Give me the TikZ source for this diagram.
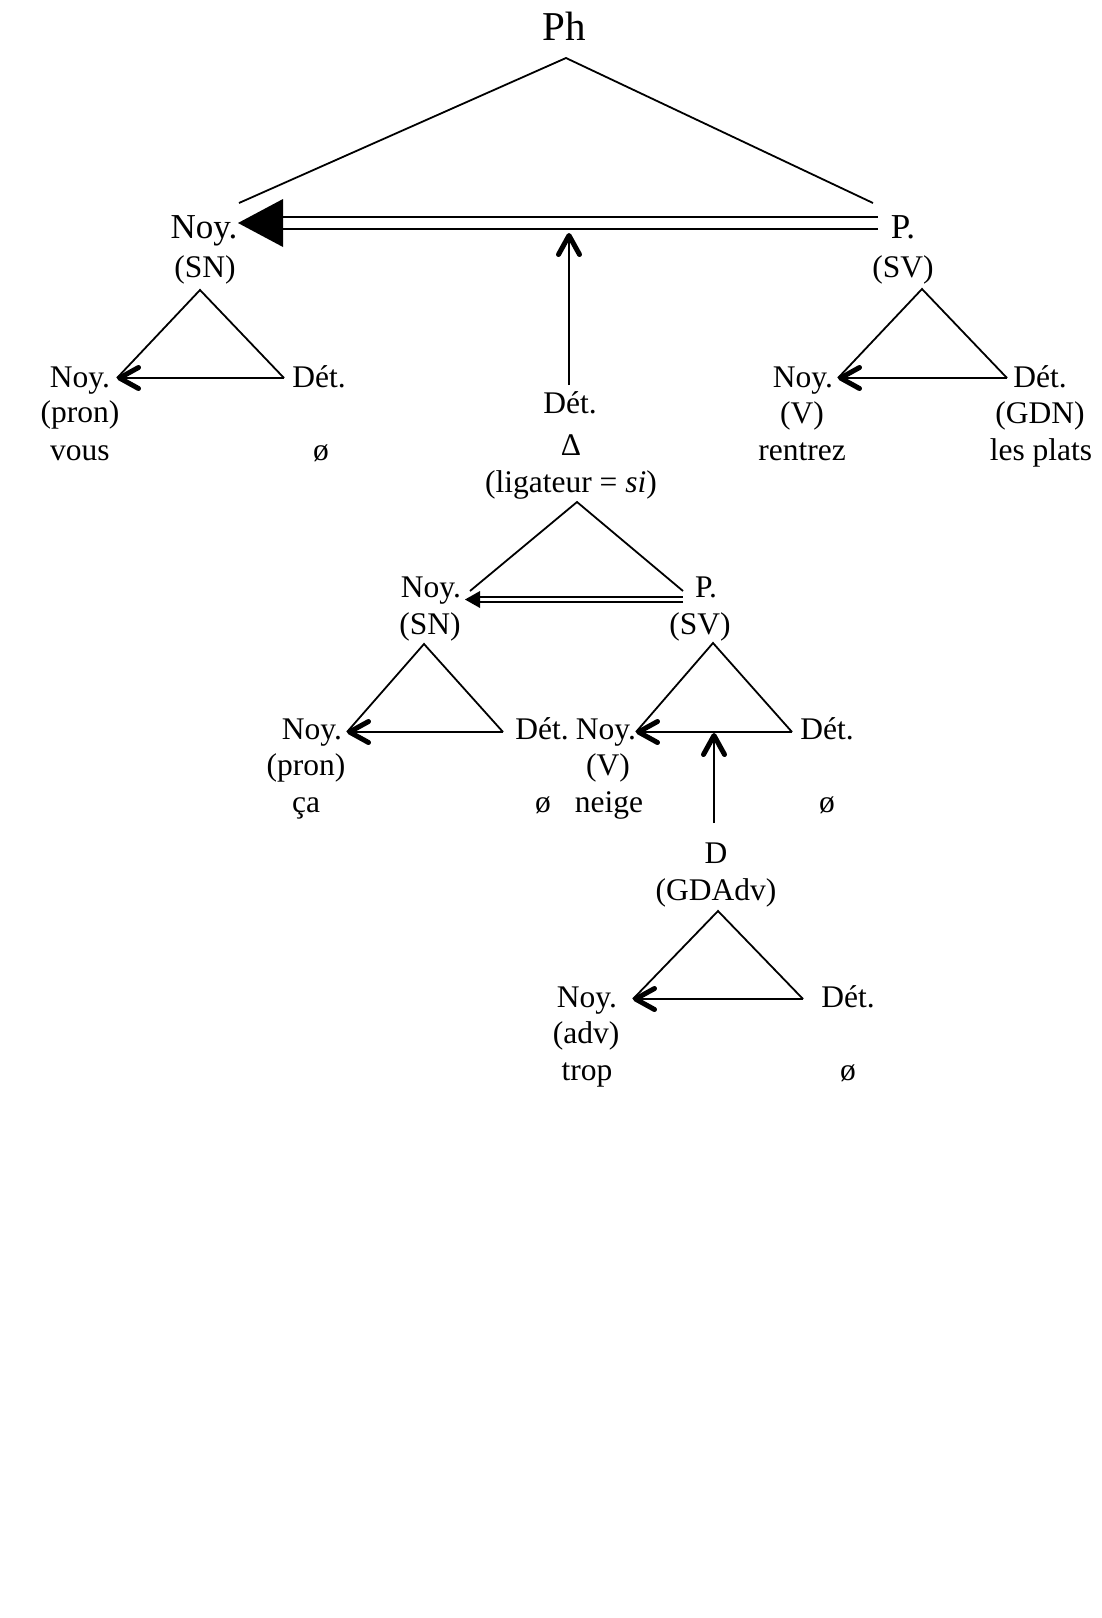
\documentclass[tikz,border=0pt]{standalone}
\usepackage{fontspec}
\setmainfont{Liberation Serif}
\usetikzlibrary{arrows.meta}
\begin{document}
\begin{tikzpicture}[x=1pt,y=-1pt,
  t/.style={anchor=base,inner sep=0pt,font=\fontsize{31.5}{36}\selectfont},
  tb/.style={anchor=base,inner sep=0pt,font=\fontsize{35}{40}\selectfont},
  tph/.style={anchor=base,inner sep=0pt,font=\fontsize{41}{46}\selectfont},
  edge/.style={line width=1.8pt},
  chev/.style={line width=1.8pt,-{Straight Barb[length=19pt,width=21pt,line width=5pt,round]}},
  uparrow/.style={line width=2.3pt,-{Straight Barb[length=19pt,width=21pt,line width=5pt,round]}},
  dbl/.style={line width=1.9pt,double distance=#1}
]
\fill[white] (0,0) rectangle (1102,1618);
\useasboundingbox (0,0) rectangle (1102,1618);

% ---------- level 0 ----------
\node[tph] (ph) at (564.5,40.7) {Ph};
\coordinate (phA) at (566,58);
\coordinate (phL) at (239,203);
\coordinate (phR) at (873,203);
\draw[edge] (phL) -- (phA) -- (phR);

% ---------- level 1 ----------
\node[tb] (n1) at (204,238) {Noy.};
\node[t]  (n1b) at (205,277) {(SN)};
\node[tb] (p1) at (903,238) {P.};
\node[t]  (p1b) at (903,277) {(SV)};
\coordinate (p1w) at (878,223);
\coordinate (n1e) at (238,223);
\draw[dbl=10pt,shorten >=45pt] (p1w) -- (n1e);
\fill (n1e) -- ++(45,-24) -- ++(0,48) -- cycle;

% central determinant
\node[t] (d1) at (570,413) {Dét.};
\node[t] (d1b) at (571,455) {Δ};
\node[t] (d1c) at (571,492) {(ligateur = \textit{si})};
\coordinate (d1top) at (569,385);
\coordinate (d1tip) at (569,233);
\draw[uparrow] (d1top) -- (d1tip);

% SN1 triangle
\coordinate (snA) at (200,290);
\coordinate (snL) at (117,378);
\coordinate (snR) at (284,378);
\draw[edge] (snL) -- (snA) -- (snR);
\draw[chev] (snR) -- (snL);
\node[t] (sn1n) at (80,387) {Noy.};
\node[t] (sn1p) at (80,422) {(pron)};
\node[t] (sn1v) at (80,460) {vous};
\node[t] (sn1d) at (319,387) {Dét.};
\node[t] (sn1o) at (321,460) {ø};

% SV1 triangle
\coordinate (svA) at (922,289);
\coordinate (svL) at (838,378);
\coordinate (svR) at (1007,378);
\draw[edge] (svL) -- (svA) -- (svR);
\draw[chev] (svR) -- (svL);
\node[t] (sv1n) at (803,387) {Noy.};
\node[t] (sv1p) at (802,423) {(V)};
\node[t] (sv1v) at (802,460) {rentrez};
\node[t] (sv1d) at (1040,387) {Dét.};
\node[t] (sv1g) at (1040,423) {(GDN)};
\node[t] (sv1l) at (1041,460) {les plats};

% ---------- level 2 ----------
\coordinate (l2A) at (577,502);
\coordinate (l2L) at (470,591);
\coordinate (l2R) at (683,591);
\draw[edge] (l2L) -- (l2A) -- (l2R);
\node[t] (n2) at (431,597) {Noy.};
\node[t] (n2b) at (430,634) {(SN)};
\node[t] (p2) at (706,597) {P.};
\node[t] (p2b) at (700,634) {(SV)};
\coordinate (p2w) at (683,599.5);
\coordinate (n2e) at (465,599.5);
\draw[line width=1.6pt,double distance=3.2pt,shorten >=15pt] (p2w) -- (n2e);
\fill (n2e) -- ++(15,-8.5) -- ++(0,17) -- cycle;

% SN2 triangle
\coordinate (sn2A) at (424,644);
\coordinate (sn2L) at (347,732);
\coordinate (sn2R) at (503,732);
\draw[edge] (sn2L) -- (sn2A) -- (sn2R);
\draw[chev] (sn2R) -- (sn2L);
\node[t] (sn2n) at (312,739) {Noy.};
\node[t] (sn2p) at (306,775) {(pron)};
\node[t] (sn2c) at (306,812) {ça};
\node[t] (sn2d) at (542,739) {Dét.};
\node[t] (sn2o) at (543,812) {ø};

% SV2 triangle
\coordinate (sv2A) at (713,643);
\coordinate (sv2L) at (636,732);
\coordinate (sv2R) at (792,732);
\draw[edge] (sv2L) -- (sv2A) -- (sv2R);
\draw[chev] (sv2R) -- (sv2L);
\node[t] (sv2n) at (606,739) {Noy.};
\node[t] (sv2p) at (608,775) {(V)};
\node[t] (sv2v) at (609,812) {neige};
\node[t] (sv2d) at (827,739) {Dét.};
\node[t] (sv2o) at (827,812) {ø};

% ---------- level 3 ----------
\node[t] (d3) at (716,863) {D};
\node[t] (d3b) at (716,900) {(GDAdv)};
\coordinate (d3top) at (714,823);
\coordinate (d3tip) at (714,733);
\draw[uparrow] (d3top) -- (d3tip);

\coordinate (gA) at (718,911);
\coordinate (gL) at (633,999);
\coordinate (gR) at (803,999);
\draw[edge] (gL) -- (gA) -- (gR);
\draw[chev] (gR) -- (gL);
\node[t] (gn) at (587,1007) {Noy.};
\node[t] (gp) at (586,1043) {(adv)};
\node[t] (gt) at (587,1080) {trop};
\node[t] (gd) at (848,1007) {Dét.};
\node[t] (go) at (848,1080) {ø};
\end{tikzpicture}
\end{document}
